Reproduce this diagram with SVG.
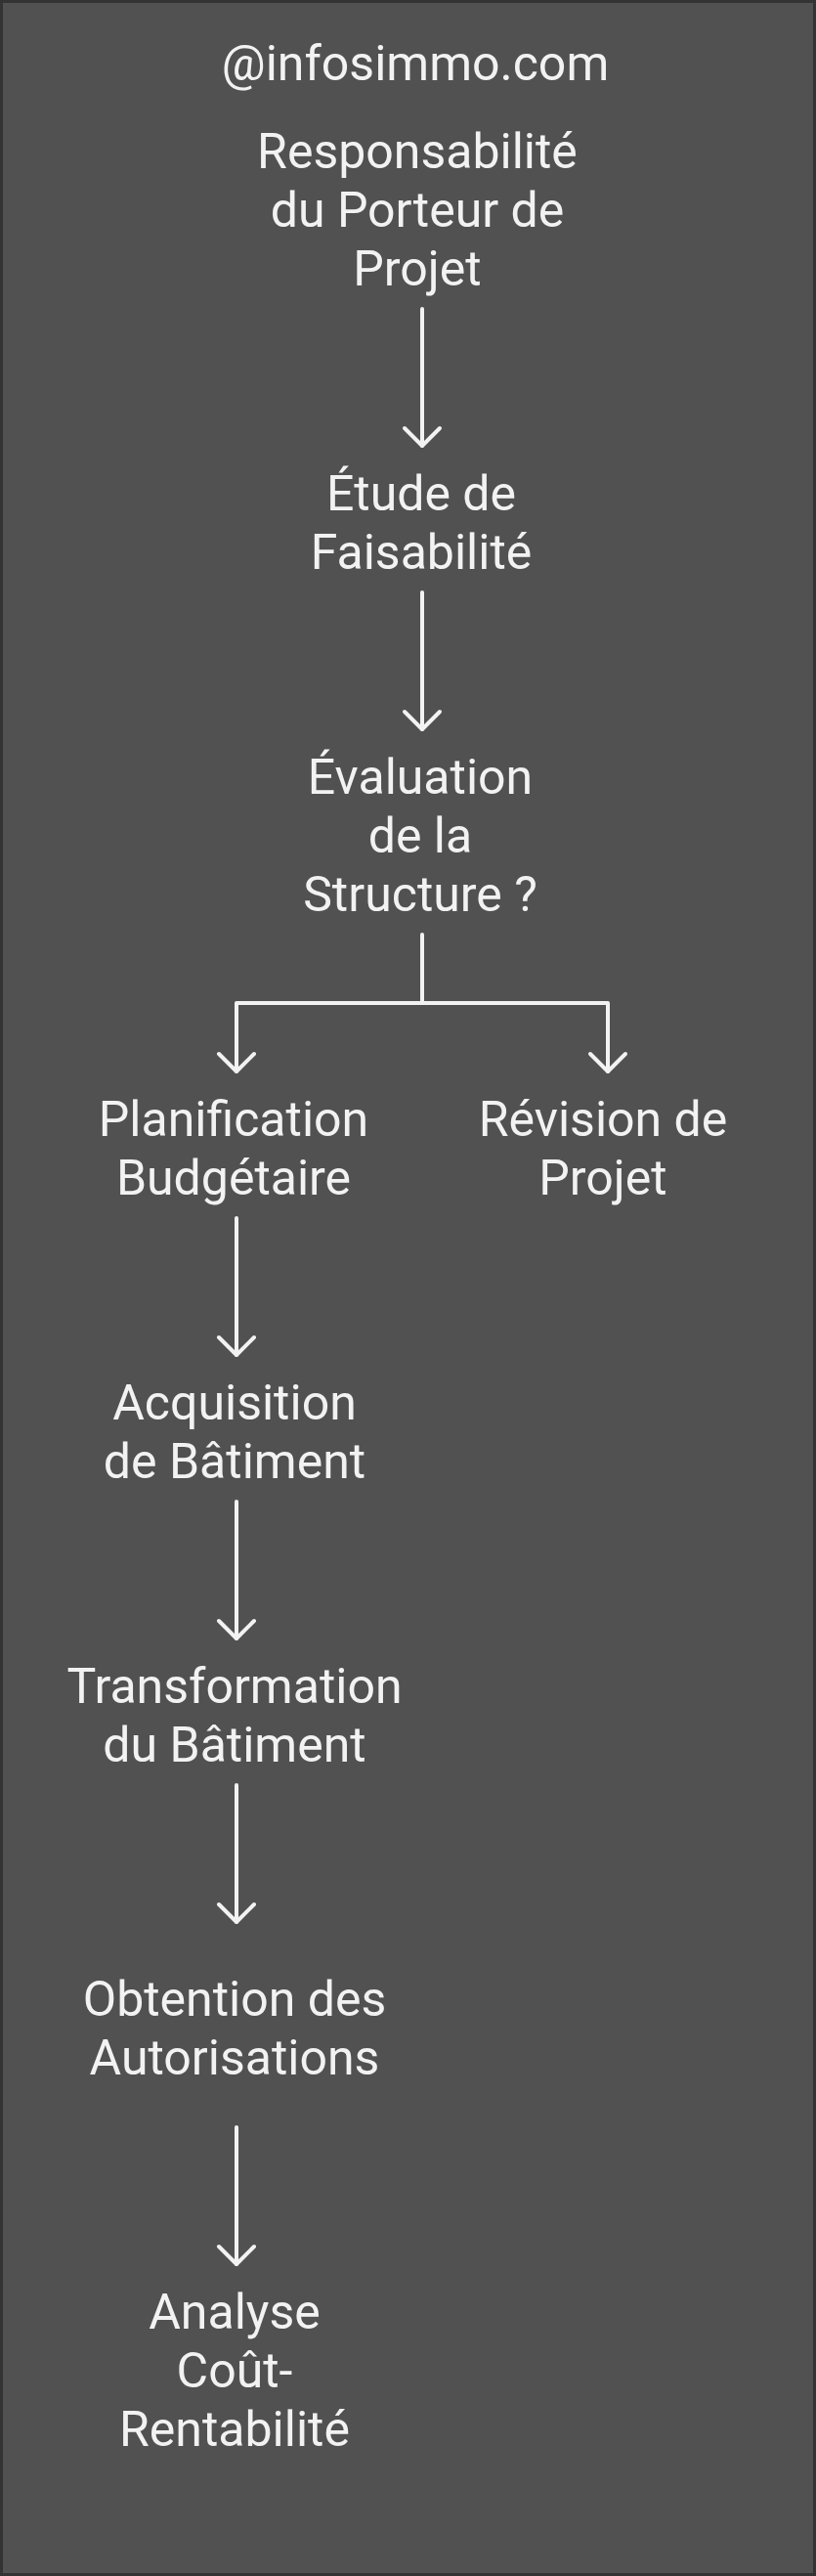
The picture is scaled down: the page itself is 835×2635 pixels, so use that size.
<svg xmlns="http://www.w3.org/2000/svg" width="835" height="2635" viewBox="0 0 835 2635">
  <style>
    .lbl { font-family: Roboto, "Liberation Sans", sans-serif; font-size: 50px; fill: #f2f2f2; text-anchor: middle; }
    .edge { fill: none; stroke: #f2f2f2; stroke-width: 4; stroke-linecap: round; stroke-linejoin: round; }
  </style>
  <defs>
    <marker id="arr" viewBox="-22 -22 44 44" markerWidth="44" markerHeight="44" refX="0" refY="0" orient="auto" markerUnits="userSpaceOnUse">
      <path d="M-18,-18 L0,0 L-18,18" fill="none" stroke="#f2f2f2" stroke-width="4" stroke-linecap="round" stroke-linejoin="round"/>
    </marker>
  </defs>
  <rect x="1.5" y="1.5" width="832" height="2632" fill="#515151" stroke="#333333" stroke-width="3"/>

  <g id="title">
    <text class="lbl" x="425" y="82">@infosimmo.com</text>
  </g>

  <g id="connectors">
    <path class="edge" d="M432,316 V456" marker-end="url(#arr)"/>
    <path class="edge" d="M432,606 V746" marker-end="url(#arr)"/>
    <path class="edge" d="M432,956 V1026 H242 V1096" marker-end="url(#arr)"/>
    <path class="edge" d="M432,1026 H622 V1096" marker-end="url(#arr)"/>
    <path class="edge" d="M242,1246 V1386" marker-end="url(#arr)"/>
    <path class="edge" d="M242,1536 V1676" marker-end="url(#arr)"/>
    <path class="edge" d="M242,1826 V1966" marker-end="url(#arr)"/>
    <path class="edge" d="M242,2176 V2316" marker-end="url(#arr)"/>
  </g>

  <g id="node-responsabilite">
    <text class="lbl" x="427" y="172">Responsabilité</text>
    <text class="lbl" x="427" y="232">du Porteur de</text>
    <text class="lbl" x="427" y="292">Projet</text>
  </g>
  <g id="node-etude">
    <text class="lbl" x="431" y="522">Étude de</text>
    <text class="lbl" x="431" y="582">Faisabilité</text>
  </g>
  <g id="node-evaluation">
    <text class="lbl" x="430" y="812">Évaluation</text>
    <text class="lbl" x="430" y="872">de la</text>
    <text class="lbl" x="430" y="932">Structure ?</text>
  </g>
  <g id="node-planification">
    <text class="lbl" x="239" y="1162">Planification</text>
    <text class="lbl" x="239" y="1222">Budgétaire</text>
  </g>
  <g id="node-revision">
    <text class="lbl" x="617" y="1162">Révision de</text>
    <text class="lbl" x="617" y="1222">Projet</text>
  </g>
  <g id="node-acquisition">
    <text class="lbl" x="240" y="1452">Acquisition</text>
    <text class="lbl" x="240" y="1512">de Bâtiment</text>
  </g>
  <g id="node-transformation">
    <text class="lbl" x="240" y="1742">Transformation</text>
    <text class="lbl" x="240" y="1802">du Bâtiment</text>
  </g>
  <g id="node-obtention">
    <text class="lbl" x="240" y="2062">Obtention des</text>
    <text class="lbl" x="240" y="2122">Autorisations</text>
  </g>
  <g id="node-analyse">
    <text class="lbl" x="240" y="2382">Analyse</text>
    <text class="lbl" x="240" y="2442">Coût-</text>
    <text class="lbl" x="240" y="2502">Rentabilité</text>
  </g>
</svg>
